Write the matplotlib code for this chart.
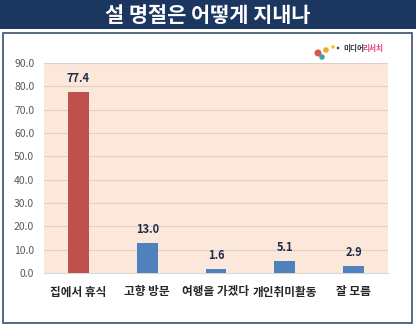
import matplotlib.pyplot as plt
from matplotlib.patches import Rectangle, Ellipse

plt.rcParams['font.family'] = ['Noto Sans CJK KR', 'DejaVu Sans']

categories = ['집에서 휴식', '고향 방문', '여행을 가겠다', '개인취미활동', '잘 모름']
values = [77.4, 13.0, 1.6, 5.1, 2.9]
bar_colors = ['#c0504d', '#4f81bd', '#4f81bd', '#4f81bd', '#4f81bd']
yticks = [0, 10, 20, 30, 40, 50, 60, 70, 80, 90]
title = '설 명절은 어떻게 지내나'

W, H = 416, 327
fig = plt.figure(figsize=(W / 100, H / 100), dpi=100)
fig.patch.set_facecolor('white')

# title banner
fig.add_artist(Rectangle((0, 1 - 29 / H), 1, 29 / H, transform=fig.transFigure,
                         facecolor='#1b365f', edgecolor='none', zorder=-2))
fig.text(0.5, 1 - 15 / H, title, color='white', fontsize=15, fontweight='bold',
         ha='center', va='center')

# outer frame of the chart
fig.add_artist(Rectangle((3 / W, 1 - 323 / H), 409 / W, 290 / H, transform=fig.transFigure,
                         facecolor='white', edgecolor='#4a5d7e', linewidth=1.3, zorder=-2))

# small logo in the corner
for (x, y, r, c) in [(318, 53, 3.5, '#d9534f'), (326, 50, 2.8, '#f0a830'),
                     (322, 57, 2.8, '#3aa6a0'), (333, 47, 1.8, '#f5c518'),
                     (338, 48, 1.3, '#444444')]:
    fig.add_artist(Ellipse((x / W, 1 - y / H), 2 * r / W, 2 * r / H,
                           transform=fig.transFigure, facecolor=c, edgecolor='none'))
fig.text(343 / W, 1 - 48 / H, '미디어', color='#333333', fontsize=5.5,
         fontweight='bold', ha='left', va='center')
fig.text(362 / W, 1 - 48 / H, '리서치', color='#e0457b', fontsize=5.5,
         fontweight='bold', ha='left', va='center')

ax = fig.add_axes([44 / W, 1 - 273 / H, 344 / W, 210 / H])
ax.set_facecolor('#fce8da')
x = range(len(categories))
bars = ax.bar(x, values, width=0.3, color=bar_colors, zorder=3)

for b, v in zip(bars, values):
    ax.text(b.get_x() + b.get_width() / 2, v + 3, f'{v:.1f}', ha='center', va='bottom',
            fontsize=8, fontweight='bold', color='#1f2d4a')

ax.set_xlim(-0.5, len(categories) - 0.5)
ax.set_ylim(0, 90)
ax.set_yticks(yticks)
ax.set_yticklabels([f'{t:.1f}' for t in yticks], fontsize=7.5, color='#595959')
ax.set_xticks(list(x))
ax.set_xticklabels(categories, fontsize=8.4, fontweight='bold', color='#262626')
ax.tick_params(axis='both', length=0)
ax.tick_params(axis='x', pad=9)
ax.tick_params(axis='y', pad=7)
ax.grid(axis='y', color='#e3cfc0', linewidth=0.8, zorder=0)
for s in ['top', 'right', 'left']:
    ax.spines[s].set_visible(False)
ax.spines['bottom'].set_color('#d9d9d9')

fig.savefig('out.png', dpi=100)
